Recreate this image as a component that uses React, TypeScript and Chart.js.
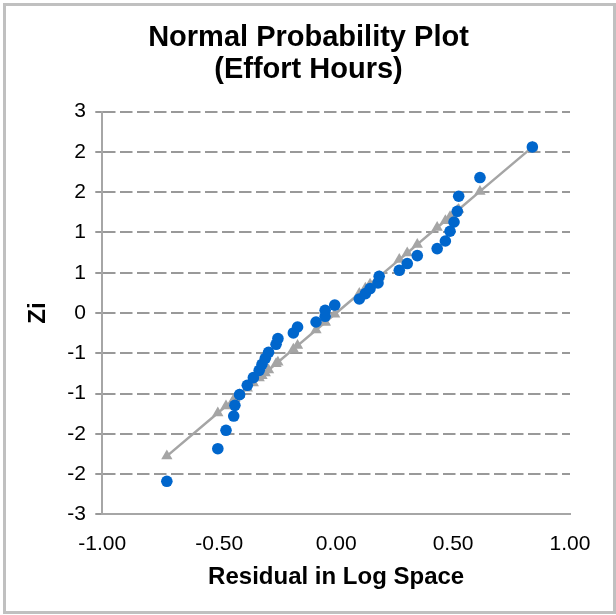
import React, { useEffect, useRef } from 'react';
import { Chart, registerables } from 'chart.js';

Chart.register(...registerables);

// Residuals (log space), sorted ascending
const residuals = [
  -0.724, -0.506, -0.471, -0.438, -0.433, -0.413, -0.380, -0.354, -0.329, -0.317,
  -0.303, -0.289, -0.257, -0.249, -0.183, -0.165, -0.086, -0.047, -0.047, -0.006,
  0.099, 0.125, 0.145, 0.179, 0.184, 0.270, 0.304, 0.347, 0.432, 0.467,
  0.487, 0.504, 0.518, 0.524, 0.615, 0.839,
];

// Normal scores Zi (blue dots)
const zScores = [
  -2.09, -1.685, -1.457, -1.28, -1.147, -1.014, -0.898, -0.803, -0.712, -0.637,
  -0.563, -0.488, -0.389, -0.318, -0.248, -0.174, -0.112, -0.041, 0.034, 0.099,
  0.174, 0.241, 0.303, 0.373, 0.456, 0.53, 0.614, 0.713, 0.8, 0.894,
  1.015, 1.13, 1.263, 1.45, 1.682, 2.062,
];

// Reference line values (gray triangles)
const fittedZ = [
  -1.777, -1.242, -1.156, -1.075, -1.063, -1.014, -0.933, -0.869, -0.808, -0.778,
  -0.744, -0.709, -0.631, -0.611, -0.449, -0.405, -0.211, -0.115, -0.115, -0.015,
  0.243, 0.307, 0.356, 0.439, 0.452, 0.663, 0.746, 0.852, 1.061, 1.146,
  1.196, 1.237, 1.272, 1.286, 1.51, 2.06,
];

const xTickLabels = ['-1.00', '-0.50', '0.00', '0.50', '1.00'];
const yTickLabels = ['-3', '-2', '-2', '-1', '-1', '0', '1', '1', '2', '2', '3'];
const titleLines = ['Normal Probability Plot', '(Effort Hours)'];
const xTitle = 'Residual in Log Space';
const yTitle = 'Zi';

const FONT = '"Liberation Sans", Arial, sans-serif';

const centeredTitle = {
  id: 'centeredTitle',
  afterDraw(chart: any) {
    const ctx = chart.ctx;
    ctx.save();
    ctx.font = `bold 29px ${FONT}`;
    ctx.fillStyle = '#000';
    ctx.textAlign = 'center';
    ctx.textBaseline = 'middle';
    titleLines.forEach((t, i) => ctx.fillText(t, chart.width / 2 - 1, 32 + i * 32));
    ctx.restore();
  },
};

export default function App() {
  const ref = useRef<HTMLCanvasElement | null>(null);

  useEffect(() => {
    document.body.style.margin = '0';
    const canvas = ref.current;
    if (!canvas) return;
    const chart = new Chart(canvas, {
      type: 'scatter',
      data: {
        datasets: [
          {
            label: 'Zi',
            data: residuals.map((x, i) => ({ x, y: zScores[i] })),
            backgroundColor: '#0066cc',
            borderColor: '#0066cc',
            pointRadius: 5.8,
            pointBorderWidth: 0,
            pointHoverRadius: 5.8,
            showLine: false,
            order: 0,
          },
          {
            label: 'Normal',
            data: residuals.map((x, i) => ({ x, y: fittedZ[i] })),
            backgroundColor: '#a5a5a5',
            borderColor: '#a5a5a5',
            borderWidth: 2.5,
            pointStyle: 'triangle',
            pointRadius: 6.5,
            pointBorderWidth: 0,
            pointHoverRadius: 6.5,
            showLine: true,
            order: 1,
          },
        ],
      },
      options: {
        responsive: false,
        animation: false,
        devicePixelRatio: 1,
        layout: { padding: { left: 0, right: 43, top: 105.7, bottom: 0 } },
        font: { family: FONT },
        color: '#000',
        plugins: {
          legend: { display: false },
          tooltip: { enabled: false },
          title: { display: false },
        },
        scales: {
          x: {
            type: 'linear',
            min: -1,
            max: 1,
            afterFit: (s: any) => { s.height = 96.7; },
            ticks: {
              stepSize: 0.5,
              padding: 17,
              color: '#000',
              font: { family: FONT, size: 21 },
              maxRotation: 0,
              callback: (_v: any, i: number) => xTickLabels[i],
            },
            grid: { display: false, drawTicks: false },
            border: { display: true, color: '#a6a6a6', width: 2 },
            title: {
              display: true,
              text: xTitle,
              color: '#000',
              font: { family: FONT, size: 24, weight: 'bold', lineHeight: 1.2 },
              padding: { top: 0, bottom: 19.6 },
            },
          },
          y: {
            type: 'linear',
            min: -2.5,
            max: 2.5,
            afterFit: (s: any) => { s.width = 96.3; },
            ticks: {
              stepSize: 0.5,
              padding: 9.3,
              color: '#000',
              font: { family: FONT, size: 21 },
              callback: (_v: any, i: number) => yTickLabels[i],
            },
            grid: {
              display: true,
              color: (ctx: any) => (ctx.tick && ctx.tick.value === -2.5 ? 'rgba(0,0,0,0)' : '#999999'),
              lineWidth: 2,
              drawTicks: true,
              tickLength: 7,
              tickColor: '#999999',
              tickWidth: 2,
              tickBorderDash: [],
            },
            border: { display: true, color: '#a6a6a6', width: 2, dash: [12.5, 4.5] },
            title: {
              display: true,
              text: yTitle,
              color: '#000',
              font: { family: FONT, size: 24, weight: 'bold', lineHeight: 1.2 },
              padding: { top: 17.6, bottom: 0 },
            },
          },
        },
      },
      plugins: [centeredTitle],
    } as any);
    return () => chart.destroy();
  }, []);

  return (
    <div style={{ position: 'fixed', left: 0, top: 0, width: 616, height: 615, background: '#fff' }}>
      <div
        style={{
          position: 'absolute',
          left: 3,
          top: 3,
          width: 613,
          height: 611,
          boxSizing: 'border-box',
          border: '3px solid #c0c0c0',
          background: '#fff',
        }}
      >
        <canvas ref={ref} width={607} height={605} style={{ display: 'block', width: 607, height: 605 }} />
      </div>
    </div>
  );
}
